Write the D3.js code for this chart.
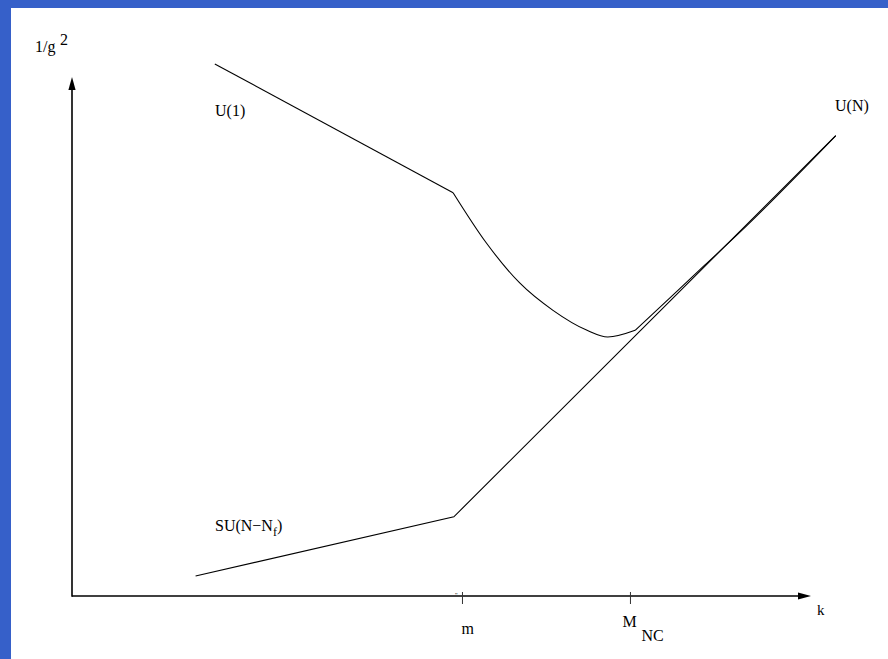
<!DOCTYPE html>
<html>
<head>
<meta charset="utf-8">
<script src="https://cdn.jsdelivr.net/npm/d3@7"></script>
<style>
  html, body { margin: 0; padding: 0; background: #ffffff; }
  svg { display: block; }
  text { font-family: "Liberation Serif", "DejaVu Serif", serif; fill: #000; }
</style>
</head>
<body>
<svg id="chart" width="888" height="659"></svg>
<script>
// Running coupling 1/g^2 versus scale k (schematic, arbitrary units)
const tickValues = [5.27, 7.54];
const tickNames = ["m", "M"];
const tickSubs = ["", "NC"];

// U(1) branch: linear above m, bending through a minimum, then joining the U(N) line
const upperStraight = [[1.93, 7.19], [5.15, 5.45]];
const upperBend = [[5.15, 5.45], [5.60, 4.77], [6.05, 4.23], [6.50, 3.86], [6.96, 3.59], [7.24, 3.50], [7.61, 3.59]];
const upperMerge = [[7.61, 3.59], [8.08, 4.03], [8.55, 4.47], [9.03, 4.92], [10.32, 6.22]];

// SU(N-N_f) branch below m, U(N) line above it
const lowerLine = [[1.67, 0.27], [5.16, 1.07], [10.32, 6.22]];

const svg = d3.select("#chart");
const W = 888, H = 659;

// page background with blue frame on the left and top
svg.append("rect").attr("x", 0).attr("y", 0).attr("width", W).attr("height", H).attr("fill", "#3660c9");
svg.append("rect").attr("x", 11).attr("y", 8).attr("width", W - 11).attr("height", H - 8).attr("fill", "#ffffff");

const x = d3.scaleLinear().domain([0, 10]).range([72, 812]);
const y = d3.scaleLinear().domain([0, 7]).range([596, 78]);

// axes with arrow heads
const x0 = x(0), y0 = y(0);
svg.append("line").attr("x1", x0).attr("y1", y0).attr("x2", 799).attr("y2", y0)
  .attr("stroke", "#000").attr("stroke-width", 1.6);
svg.append("path").attr("d", `M811,${y0} L798,${y0 - 3.6} L798,${y0 + 3.6} Z`).attr("fill", "#000");
svg.append("line").attr("x1", x0).attr("y1", y0 + 0.8).attr("x2", x0).attr("y2", 89)
  .attr("stroke", "#000").attr("stroke-width", 1.6);
svg.append("path").attr("d", `M${x0},77 L${x0 - 3.6},90 L${x0 + 3.6},90 Z`).attr("fill", "#000");

// tick marks at m and M_NC
const axisG = svg.append("g").attr("transform", `translate(0,${y0})`)
  .call(d3.axisBottom(x).tickValues(tickValues).tickSizeInner(8).tickSizeOuter(0).tickFormat(""));
axisG.select(".domain").remove();
axisG.selectAll(".tick line").attr("y1", -4).attr("stroke", "#333").attr("stroke-width", 1);

// tick labels
tickNames.forEach((name, i) => {
  const px = x(tickValues[i]);
  if (tickSubs[i]) {
    svg.append("text").attr("x", px - 7.5).attr("y", 627).attr("font-size", 16).text(name);
    svg.append("text").attr("x", px + 11.5).attr("y", 641).attr("font-size", 16).text(tickSubs[i]);
  } else {
    svg.append("text").attr("x", px - 0.5).attr("y", 634).attr("font-size", 16).text(name);
  }
});
svg.append("text").attr("x", 455).attr("y", 597).attr("font-size", 7).text("''");

// axis titles
svg.append("text").attr("x", 817).attr("y", 615).attr("font-size", 15).text("k");
const yTitle = svg.append("text").attr("x", 35).attr("y", 52).attr("font-size", 16);
yTitle.append("tspan").text("1/g");
yTitle.append("tspan").attr("dx", 4.5).attr("dy", -7).text("2");

// curves
const lineLin = d3.line().x(d => x(d[0])).y(d => y(d[1]));
const lineSmooth = d3.line().x(d => x(d[0])).y(d => y(d[1])).curve(d3.curveMonotoneX);
const stroke = g => g.attr("fill", "none").attr("stroke", "#000").attr("stroke-width", 1.1);

svg.append("path").attr("d", lineLin(upperStraight)).call(stroke);
svg.append("path").attr("d", lineSmooth(upperBend)).call(stroke);
svg.append("path").attr("d", lineSmooth(upperMerge)).call(stroke);
svg.append("path").attr("d", lineLin(lowerLine)).call(stroke);

// curve labels
svg.append("text").attr("x", 215).attr("y", 116).attr("font-size", 16).text("U(1)");
svg.append("text").attr("x", 835).attr("y", 111).attr("font-size", 16).text("U(N)");
const suLabel = svg.append("text").attr("x", 215).attr("y", 531).attr("font-size", 16);
suLabel.append("tspan").text("SU(N\u2212N");
suLabel.append("tspan").attr("dy", 5).attr("font-size", 12).text("f");
suLabel.append("tspan").attr("dy", -5).text(")");
</script>
</body>
</html>
